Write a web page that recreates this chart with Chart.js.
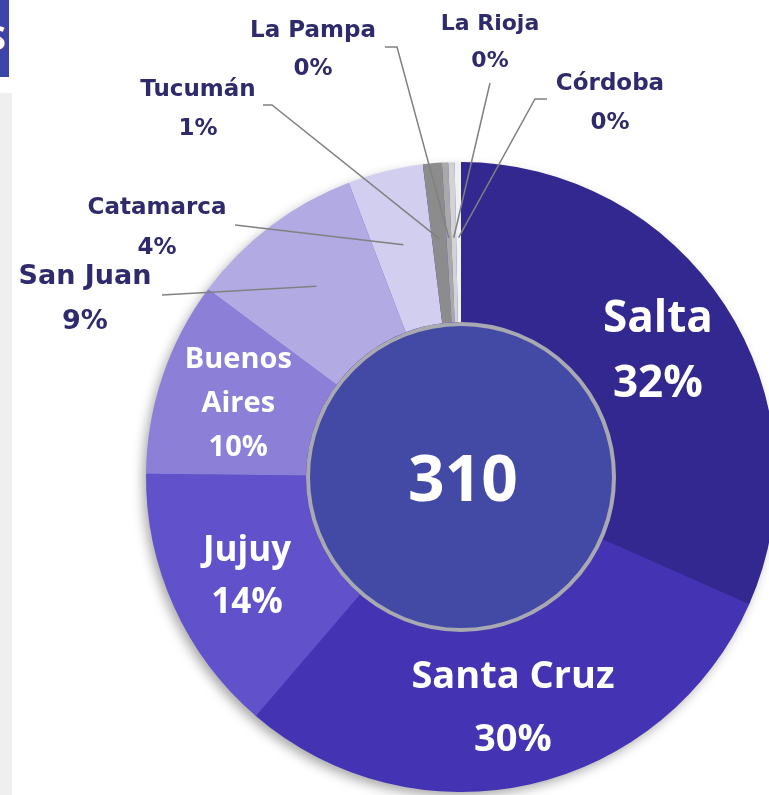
<!DOCTYPE html>
<html>
<head>
<meta charset="utf-8">
<script src="https://cdn.jsdelivr.net/npm/chart.js@4.4.1/dist/chart.umd.min.js"></script>
<style>
html,body{margin:0;padding:0;background:#ffffff;}
body{width:769px;height:795px;overflow:hidden;position:relative;}
#strip{position:absolute;left:0;top:93px;width:12px;height:702px;background:#efefef;}
#tab{position:absolute;left:0;top:0;width:9px;height:77px;background:#3d45a8;overflow:hidden;}
#tab span{position:absolute;left:-13px;top:14px;color:#ffffff;font:bold 34px "Open Sans";}
#wrap{position:absolute;left:0;top:0;width:800px;height:800px;}
</style>
</head>
<body>
<div id="strip"></div>
<div id="tab"><span>S</span></div>
<div id="wrap"><canvas id="pieChart" width="800" height="800"></canvas></div>
<script>
/* =====================================================
   DATOS
===================================================== */

const provinces = [
  "Salta","Santa Cruz","Jujuy","Buenos Aires","San Juan",
  "Catamarca","Tucumán","La Pampa","La Rioja","Córdoba"
];

const counts = [98, 92, 43, 31, 28, 12, 3, 1, 1, 1];


/* =====================================================
   ESTILOS
===================================================== */

const sliceColors = [
  "#33288f","#4434b4","#6151cb","#8b7fd8","#b2abe3",
  "#d2ceef","#8c8c8c","#a9a9a9","#d3d3d3","#f0f0f0"
];

// etiquetas blancas dentro del anillo: tamaño de letra y separación de líneas
const insideLabels = {
  "Salta":        { size: 44, gap: 65 },
  "Santa Cruz":   { size: 38, gap: 63 },
  "Jujuy":        { size: 35, gap: 52 },
  "Buenos Aires": { size: 29, gap: 44, wrap: true }
};

// etiquetas exteriores: posición relativa al centro y trazo de la guía
const callouts = {
  "San Juan":  { pos: [-376, -203], size: 27, gap: 45, path: [[-299, -182]] },
  "Catamarca": { pos: [-304, -271], size: 23, gap: 40, path: [[-226, -252]] },
  "Tucumán":   { pos: [-263, -389], size: 23, gap: 39, path: [[-198, -372], [-189, -372]] },
  "La Pampa":  { pos: [-148, -448], size: 23, gap: 38, path: [[-76, -430], [-64, -430]] },
  "La Rioja":  { pos: [29, -455],   size: 22, gap: 37, path: [[29, -394]] },
  "Córdoba":   { pos: [149, -395],  size: 23, gap: 39, path: [[86, -378], [74, -378]] }
};

const total = counts.reduce((a, b) => a + b, 0);

function pct(v){
  return Math.round(v / total * 100) + "%";
}


/* =====================================================
   PLUGIN: sombra, guías, etiquetas y círculo central
===================================================== */

const doughnutDecor = {

  id: "doughnutDecor",

  beforeDatasetsDraw(chart){
    const ctx = chart.ctx;
    const first = chart.getDatasetMeta(0).data[0];
    const {x, y, outerRadius} = first.getProps(["x","y","outerRadius"]);

    ctx.save();
    ctx.shadowColor = "rgba(0,0,0,0.35)";
    ctx.shadowBlur = 12;
    ctx.shadowOffsetX = -4;
    ctx.shadowOffsetY = 5;
    ctx.beginPath();
    ctx.arc(x, y, outerRadius - 1, 0, Math.PI * 2);
    ctx.fillStyle = "#4434b4";
    ctx.fill();
    ctx.restore();
  },

  afterDatasetsDraw(chart){
    const ctx = chart.ctx;
    const meta = chart.getDatasetMeta(0);

    ctx.save();

    meta.data.forEach((arc, i) => {
      const name = provinces[i];
      const p = arc.getProps(["x","y","startAngle","endAngle","outerRadius","innerRadius"]);

      if(insideLabels[name]){
        const st = insideLabels[name];
        const pos = arc.tooltipPosition();
        const lines = st.wrap ? name.split(" ") : [name];
        lines.push(pct(counts[i]));

        ctx.fillStyle = "#ffffff";
        ctx.font = "bold " + st.size + "px 'Open Sans'";
        ctx.textAlign = "center";
        ctx.textBaseline = "alphabetic";

        const top = pos.y - st.gap * (lines.length - 1) / 2;
        lines.forEach((txt, k) => {
          ctx.fillText(txt, pos.x, top + k * st.gap + st.size * 0.357);
        });
      }

      if(callouts[name]){
        const c = callouts[name];
        const mid = (p.startAngle + p.endAngle) / 2;
        const r = p.outerRadius * 0.76;
        const ex = p.x + Math.cos(mid) * r;
        const ey = p.y + Math.sin(mid) * r;

        ctx.strokeStyle = "#808080";
        ctx.lineWidth = 1.5;
        ctx.beginPath();
        c.path.forEach((pt, k) => {
          if(k === 0) ctx.moveTo(p.x + pt[0], p.y + pt[1]);
          else ctx.lineTo(p.x + pt[0], p.y + pt[1]);
        });
        ctx.lineTo(ex, ey);
        ctx.stroke();

        ctx.fillStyle = "#2f2a6b";
        ctx.font = "bold " + c.size + "px 'DejaVu Sans'";
        ctx.textAlign = "center";
        ctx.textBaseline = "alphabetic";
        const tx = p.x + c.pos[0];
        const ty = p.y + c.pos[1];
        ctx.fillText(name, tx, ty + c.size * 0.365);
        ctx.fillText(pct(counts[i]), tx, ty + c.gap + c.size * 0.365);
      }
    });

    // círculo central con el total
    const first = meta.data[0];
    const {x, y, innerRadius} = first.getProps(["x","y","innerRadius"]);

    ctx.beginPath();
    ctx.arc(x, y, innerRadius - 2, 0, Math.PI * 2);
    ctx.fillStyle = "#434aa6";
    ctx.fill();
    ctx.lineWidth = 4;
    ctx.strokeStyle = "#a9a9b2";
    ctx.stroke();

    ctx.fillStyle = "#ffffff";
    ctx.font = "bold 64px 'Open Sans'";
    ctx.textAlign = "center";
    ctx.textBaseline = "alphabetic";
    ctx.fillText(String(total), x + 2, y + 1 + 64 * 0.357);

    ctx.restore();
  }
};


/* =====================================================
   GRÁFICO
===================================================== */

const chart = new Chart(document.getElementById("pieChart"), {

  type: "doughnut",

  data: {
    labels: provinces,
    datasets: [{
      data: counts,
      backgroundColor: sliceColors,
      borderWidth: 0
    }]
  },

  options: {
    responsive: false,
    devicePixelRatio: 1,
    animation: false,
    events: [],
    cutout: "49.2%",
    layout: {
      padding: { left: 146, right: 24, top: 162, bottom: 8 }
    },
    plugins: {
      legend: { display: false },
      tooltip: { enabled: false }
    }
  },

  plugins: [doughnutDecor]

});
</script>
</body>
</html>
